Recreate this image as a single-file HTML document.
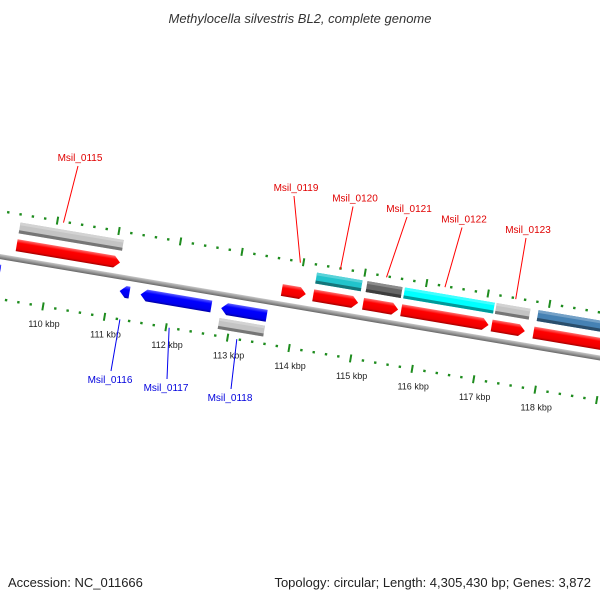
<!DOCTYPE html>
<html><head><meta charset="utf-8"><style>
body{margin:0;background:#fff;}
svg{display:block;font-family:"Liberation Sans","DejaVu Sans",sans-serif;}
</style></head><body>
<svg id="map" width="600" height="600" viewBox="0 0 600 600">
<defs>
<linearGradient id="gRed" x1="0" y1="0" x2="0" y2="1"><stop offset="0" stop-color="#ff7070"/><stop offset="0.3" stop-color="#ff0000"/><stop offset="0.8" stop-color="#ee0000"/><stop offset="1" stop-color="#a00000"/></linearGradient>
<linearGradient id="gBlue" x1="0" y1="0" x2="0" y2="1"><stop offset="0" stop-color="#6060ff"/><stop offset="0.3" stop-color="#0000ff"/><stop offset="0.8" stop-color="#0000ee"/><stop offset="1" stop-color="#0000a0"/></linearGradient>
<linearGradient id="gBack" x1="0" y1="0" x2="0" y2="1"><stop offset="0" stop-color="#c8c8c8"/><stop offset="0.5" stop-color="#999"/><stop offset="1" stop-color="#666"/></linearGradient>
</defs>
<text x="300" y="23" text-anchor="middle" font-size="13" font-style="italic" fill="#333">Methylocella silvestris BL2, complete genome</text>
<g id="rot"></g>
<g id="labels"></g>
<text x="8" y="587" font-size="13" fill="#222">Accession: NC_011666</text>
<text x="591" y="587" text-anchor="end" font-size="13" fill="#222">Topology: circular; Length: 4,305,430 bp; Genes: 3,872</text>
</svg>
<script>
// data (kbp)
const fwdStart=[109.42,113.73,114.24,115.05,115.67,117.14,117.82];
const fwdEnd=[111.10,114.12,114.97,115.62,117.09,117.68,119.5];
const fwd2Start=[109.42,114.24,115.06,115.67,117.16,117.84];
const fwd2End=[111.10,114.98,115.63,117.13,117.71,119.5];
const fwd2Color=["#c4c4c4","#22c4cc","#666666","#00ffff","#c4c4c4","#4682b4"];
const revStart=[108.6,111.17,111.51,112.82];
const revEnd=[109.23,111.33,112.66,113.56];
const rev2Start=[112.82];
const rev2End=[113.56];
const tickLabels=[110,111,112,113,114,115,116,117,118];
const fwdNames=["Msil_0115","Msil_0119","Msil_0120","Msil_0121","Msil_0122","Msil_0123"];
const fwdNamePos=[110.1,113.95,114.6,115.35,116.3,117.45];
const revNames=["Msil_0116","Msil_0117","Msil_0118"];
const revNamePos=[111.25,112.05,113.15];

const NS="http://www.w3.org/2000/svg";
const ANG=9.6, rad=ANG*Math.PI/180, OX=50, OY=265, K=62.4;
const U=k=>(k-110)*K;
function P(k,v){const u=U(k);return [OX+u*Math.cos(rad)-v*Math.sin(rad),OY+u*Math.sin(rad)+v*Math.cos(rad)];}
const rot=document.getElementById('rot');
rot.setAttribute('transform',`translate(${OX},${OY}) rotate(${ANG})`);
const lab=document.getElementById('labels');
function mk(tag,attrs,parent){const e=document.createElementNS(NS,tag);for(const a in attrs)e.setAttribute(a,attrs[a]);parent.appendChild(e);return e;}
function shade(c,f){const n=parseInt(c.slice(1),16);let r=n>>16,g=(n>>8)&255,b=n&255;const m=x=>Math.max(0,Math.min(255,Math.round(f>1?x+(255-x)*(f-1):x*f)));return `rgb(${m(r)},${m(g)},${m(b)})`;}

// backbone
let bb=mk('rect',{x:-300,y:-2.5,width:1200,height:5,fill:'url(#gBack)'},rot);



// ticks
for(let i=0;i<=70;i++){
  const k=106+i*0.2; const major=Math.abs(k-Math.round(k))<1e-6;
  for(const v of [-45,42]){
    let t;
    if(major) t=mk('rect',{x:U(k)-1,y:v-4,width:2,height:8,fill:'#1e8c1e'},rot);
    else t=mk('rect',{x:U(k)-1.2,y:v-1.2,width:2.4,height:2.4,fill:'#1e8c1e'},rot);
    
    
  }
}
tickLabels.forEach(k=>{
  const [x,y]=P(k,60);
  const t=mk('text',{x:x+4,y:y+3,'text-anchor':'middle','font-size':'9',fill:'#222'},lab);
  t.textContent=k+' kbp';
  
  
});

function arrowGene(a,b,v0,v1,dir,fill,name){
  const u0=U(a),u1=U(b),h=6,m=(v0+v1)/2;let pts;
  if(dir>0) pts=[[u0,v0],[u1-h,v0],[u1,m],[u1-h,v1],[u0,v1]];
  else pts=[[u0+h,v0],[u1,v0],[u1,v1],[u0+h,v1],[u0,m]];
  const p=mk('polygon',{points:pts.map(q=>q.join(',')).join(' '),fill:fill},rot);
  
  
}
function barGene(a,b,v0,v1,col,name){
  const g=mk('g',{},rot);
  
  
  mk('rect',{x:U(a),y:v0,width:U(b)-U(a),height:v1-v0,fill:col},g);
  mk('rect',{x:U(a),y:v0,width:U(b)-U(a),height:(v1-v0)*0.25,fill:shade(col,1.25)},g);
  mk('rect',{x:U(a),y:v1-(v1-v0)*0.28,width:U(b)-U(a),height:(v1-v0)*0.28,fill:shade(col,0.6)},g);
}
fwdStart.forEach((s,i)=>arrowGene(s,fwdEnd[i],-20,-8,1,'url(#gRed)','forward-gene'));
fwd2Start.forEach((s,i)=>barGene(s,fwd2End[i],-37,-26,fwd2Color[i],'forward-feature'));
revStart.forEach((s,i)=>arrowGene(s,revEnd[i],8,20,-1,'url(#gBlue)','reverse-gene'));
rev2Start.forEach((s,i)=>barGene(s,rev2End[i],24,35,'#c4c4c4','reverse-feature'));

// name labels
fwdNames.forEach((n,i)=>{
  const k=fwdNamePos[i]; const [x1,y1]=P(k,-44); const [x2,y2]=P(k+0.08,-90-i*0);
  const ty=157+(i===0?0:30+(i-1)*10.5);
  const tx=[80,296,355,409,464,528][i];
  const l=mk('line',{x1:x1,y1:y1,x2:tx-2,y2:ty+9,stroke:'#ff0000','stroke-width':1},lab);
  
  
  const t=mk('text',{x:tx,y:ty+4,'text-anchor':'middle','font-size':'10',fill:'#e00000'},lab);
  t.textContent=n;
  
  
});
revNames.forEach((n,i)=>{
  const k=revNamePos[i]; const [x1,y1]=P(k,42);
  const tx=[110,166,230][i], ty=[379,387,397][i];
  const l=mk('line',{x1:x1,y1:y1,x2:tx+1,y2:ty-8,stroke:'#0000ee','stroke-width':1},lab);
  
  
  const t=mk('text',{x:tx,y:ty+4,'text-anchor':'middle','font-size':'10',fill:'#0000dd'},lab);
  t.textContent=n;
  
  
});
</script>
</body></html>
